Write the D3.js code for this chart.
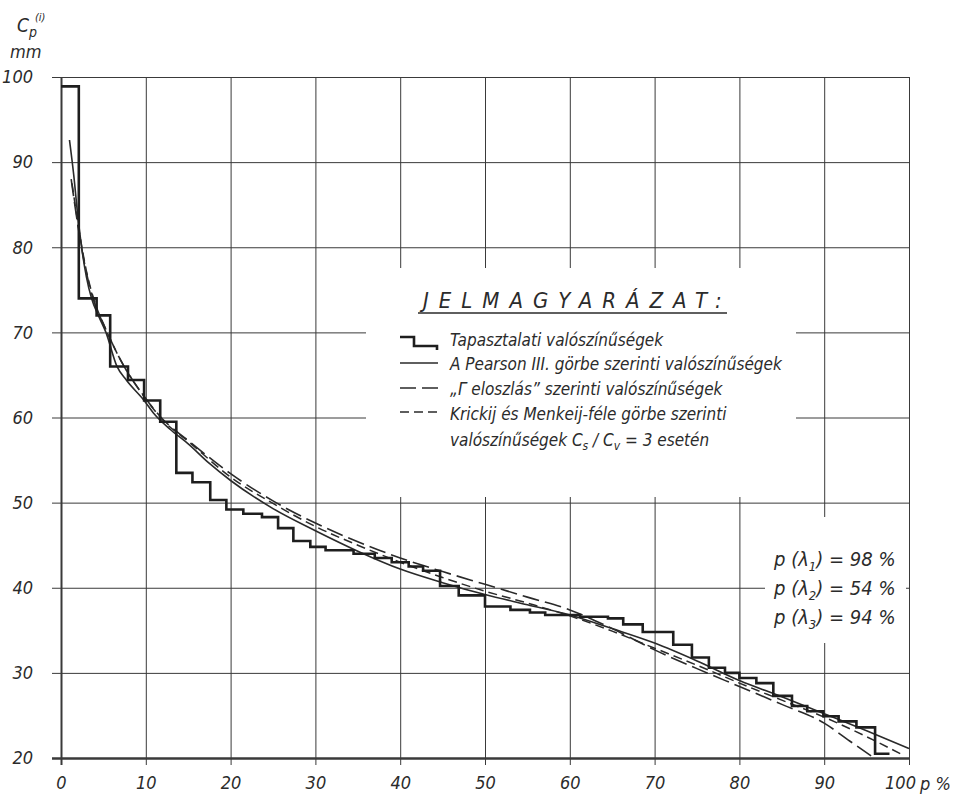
<!DOCTYPE html>
<html>
<head>
  <meta charset="utf-8">
  <script src="https://d3js.org/d3.v7.min.js"></script>
  <style>
    body { margin: 0; background: #fff; }
    text {
      font-family: "DejaVu Sans Condensed", "DejaVu Sans", sans-serif;
      font-style: italic;
      fill: #2b2b2b;
    }
    .grid line { stroke: #3a3a3a; stroke-width: 1; }
    .grid path { display: none; }
  </style>
</head>
<body>
<script>
  // empirical probabilities (step): start of each step in p% and its level in mm
  var stepP = [0, 2.1, 4.2, 5.8, 7.9, 9.8, 11.7, 13.6, 15.5, 17.6, 19.5, 21.5, 23.7, 25.6, 27.4,
               29.4, 31.2, 34.5, 37.0, 39.0, 41.0, 42.7, 44.7, 46.9, 50.0, 53.0, 55.3, 57.1, 61.2,
               64.5, 66.3, 68.6, 72.2, 74.4, 76.4, 78.3, 80.0, 82.0, 84.0, 86.2, 88.0, 89.9, 91.7,
               93.8, 96.0, 97.7];
  var stepC = [98.9, 74.0, 72.0, 66.0, 64.4, 62.0, 59.5, 53.5, 52.4, 50.3, 49.2, 48.7, 48.3, 47.0, 45.5,
               44.8, 44.4, 44.0, 43.5, 43.0, 42.5, 42.0, 40.2, 39.1, 37.8, 37.4, 37.1, 36.8, 36.6,
               36.4, 35.7, 34.8, 33.3, 31.8, 30.6, 30.0, 29.4, 28.8, 27.3, 26.1, 25.5, 24.9, 24.3,
               23.6, 20.5, 20.5];

  // Pearson III curve
  var pearsonP = [1.0, 1.5, 2.0, 2.5, 3.0, 3.6, 4.4, 5.3, 6.6, 7.7, 9.8, 11, 13, 15, 17.5, 20, 25,
                  30, 35, 40, 45, 50, 55, 60, 65, 70, 75, 80, 85, 90, 95, 100];
  var pearsonC = [92.6, 88.5, 83.5, 79.5, 76.5, 74.0, 72.0, 70.0, 66.0, 64.4, 62.0, 60.4, 58.5, 56.9,
                  54.6, 52.6, 49.3, 46.7, 44.3, 42.2, 40.6, 39.2, 38.0, 36.8, 35.2, 33.5, 31.4, 29.1,
                  27.2, 25.2, 23.2, 21.1];

  // "Gamma" distribution curve
  var gammaP = [1.2, 2, 3, 4, 5, 7, 10, 12, 15, 20, 25, 30, 35, 40, 45, 50, 55, 60, 65, 70, 75, 80,
                85, 90, 93, 95.6];
  var gammaC = [88.0, 82.5, 77.0, 73.3, 71.0, 66.8, 62.2, 59.8, 57.3, 53.4, 50.2, 47.6, 45.4, 43.5,
                41.9, 40.4, 38.9, 37.4, 35.2, 32.7, 30.5, 28.4, 26.3, 24.1, 22.0, 20.2];

  // Krickij-Menkel curve, Cs/Cv = 3
  var krickijP = [1.3, 2, 3, 4, 5, 7, 10, 12, 15, 20, 25, 30, 35, 40, 45, 50, 55, 60, 65, 70, 75, 80,
                  85, 90, 95, 99];
  var krickijC = [87.5, 82.8, 77.2, 73.5, 71.0, 66.8, 62.2, 59.7, 57.2, 53.0, 49.9, 47.2, 45.0, 43.0,
                  41.2, 39.6, 38.2, 36.7, 34.9, 32.9, 30.9, 28.8, 26.8, 24.8, 22.5, 20.5];

  var xTicks = [0, 10, 20, 30, 40, 50, 60, 70, 80, 90, 100];
  var yTicks = [20, 30, 40, 50, 60, 70, 80, 90, 100];

  var legendRows = [
    "Tapasztalati valószínűségek",
    "A Pearson III. görbe szerinti valószínűségek",
    "„Γ eloszlás” szerinti valószínűségek",
    "Krickij és Menkeij-féle görbe szerinti"
  ];
  var probLabels = ["98", "54", "94"];

  var W = 958, H = 795;
  var svg = d3.select("body").append("svg")
    .attr("width", W).attr("height", H);

  var x = d3.scaleLinear().domain([0, 100]).range([61, 909]);
  var y = d3.scaleLinear().domain([20, 100]).range([758, 77]);

  // grid, extended a little past the axes like tick marks
  svg.append("g").attr("class", "grid")
    .attr("transform", "translate(0,765)")
    .call(d3.axisBottom(x).tickValues(xTicks).tickSize(-(765 - 77)).tickPadding(11).tickFormat(d3.format("d")))
    .call(function (g) {
      g.selectAll("text").style("font-size", "18px").attr("fill", "#2b2b2b").attr("font-family", null);
      g.selectAll(".tick").filter(function (d) { return d === 0; }).select("line")
        .style("stroke-width", 2);
      // last label sits a bit to the left, "p %" follows it
      g.selectAll(".tick").filter(function (d) { return d === 100; }).select("text")
        .attr("dx", -9);
    });

  svg.append("g").attr("class", "grid")
    .attr("transform", "translate(52,0)")
    .call(d3.axisLeft(y).tickValues(yTicks).tickSize(-(909 - 52)).tickPadding(19).tickFormat(d3.format("d")))
    .call(function (g) {
      g.selectAll("text").style("font-size", "18px").attr("fill", "#2b2b2b").attr("font-family", null);
      g.selectAll(".tick").filter(function (d) { return d === 20; }).select("line")
        .style("stroke-width", 2.5);
    });

  // white boxes behind legend and probability notes (grid is blanked there)
  svg.append("rect").attr("x", 366).attr("y", 268).attr("width", 430).attr("height", 229).attr("fill", "#fff");
  svg.append("rect").attr("x", 765).attr("y", 517).attr("width", 141).attr("height", 126).attr("fill", "#fff");

  // p % unit after the last x label
  svg.append("text").attr("x", 920).attr("y", 790).style("font-size", "18px").text("p %");

  // y axis title
  var yt = svg.append("text").attr("x", 17).attr("y", 32).style("font-size", "19px");
  yt.append("tspan").text("C");
  yt.append("tspan").attr("dy", 5).style("font-size", "14px").text("p");
  yt.append("tspan").attr("dx", -2).attr("dy", -16).style("font-size", "11px").text("(i)");
  svg.append("text").attr("x", 10).attr("y", 58).style("font-size", "18px").text("mm");

  // curves
  var line = d3.line()
    .x(function (d) { return x(d[0]); })
    .y(function (d) { return y(d[1]); })
    .curve(d3.curveMonotoneX);

  var stepLine = d3.line()
    .x(function (d) { return x(d[0]); })
    .y(function (d) { return y(d[1]); })
    .curve(d3.curveStepAfter);

  svg.append("path")
    .datum(d3.zip(pearsonP, pearsonC))
    .attr("d", line).attr("fill", "none")
    .attr("stroke", "#2a2a2a").attr("stroke-width", 1.6);

  svg.append("path")
    .datum(d3.zip(gammaP, gammaC))
    .attr("d", line).attr("fill", "none")
    .attr("stroke", "#2a2a2a").attr("stroke-width", 1.6)
    .attr("stroke-dasharray", "17,6");

  svg.append("path")
    .datum(d3.zip(krickijP, krickijC))
    .attr("d", line).attr("fill", "none")
    .attr("stroke", "#2a2a2a").attr("stroke-width", 1.5)
    .attr("stroke-dasharray", "9,5");

  svg.append("path")
    .datum(d3.zip(stepP, stepC))
    .attr("d", stepLine).attr("fill", "none")
    .attr("stroke", "#1e1e1e").attr("stroke-width", 2.6)
    .attr("stroke-linejoin", "miter");

  // legend
  svg.append("text").attr("x", 423).attr("y", 308)
    .style("font-size", "22px").style("letter-spacing", "10px")
    .text("JELMAGYARÁZAT:");
  svg.append("line").attr("x1", 418).attr("x2", 727).attr("y1", 313).attr("y2", 313)
    .attr("stroke", "#2a2a2a").attr("stroke-width", 1.5);

  var lg = svg.append("g");
  lg.append("path").attr("d", "M400,337 H414 V346 H437 V350")
    .attr("fill", "none").attr("stroke", "#1e1e1e").attr("stroke-width", 2.6);
  lg.append("line").attr("x1", 400).attr("x2", 438).attr("y1", 363).attr("y2", 363)
    .attr("stroke", "#2a2a2a").attr("stroke-width", 1.4);
  lg.append("line").attr("x1", 400).attr("x2", 438).attr("y1", 388).attr("y2", 388)
    .attr("stroke", "#2a2a2a").attr("stroke-width", 1.4).attr("stroke-dasharray", "16,6");
  lg.append("line").attr("x1", 400).attr("x2", 438).attr("y1", 412).attr("y2", 412)
    .attr("stroke", "#2a2a2a").attr("stroke-width", 1.4).attr("stroke-dasharray", "9,5");

  lg.selectAll("text.row").data(legendRows).enter().append("text")
    .attr("class", "row")
    .attr("x", 450)
    .attr("y", function (d, i) { return [346, 370, 395, 420][i]; })
    .style("font-size", "17px")
    .text(function (d) { return d; });

  var last = lg.append("text").attr("x", 450).attr("y", 446).style("font-size", "17px");
  last.append("tspan").text("valószínűségek  C");
  last.append("tspan").attr("dy", 4).style("font-size", "12px").text("s");
  last.append("tspan").attr("dy", -4).text(" / C");
  last.append("tspan").attr("dy", 4).style("font-size", "12px").text("v");
  last.append("tspan").attr("dy", -4).text(" = 3  esetén");

  // probabilities of the fit tests
  probLabels.forEach(function (v, i) {
    var t = svg.append("text").attr("x", 774).attr("y", 566 + i * 29).style("font-size", "20px");
    t.append("tspan").text("p (λ");
    t.append("tspan").attr("dy", 5).style("font-size", "13px").text(i + 1);
    t.append("tspan").attr("dy", -5).text(") = " + v + " %");
  });
</script>
</body>
</html>
